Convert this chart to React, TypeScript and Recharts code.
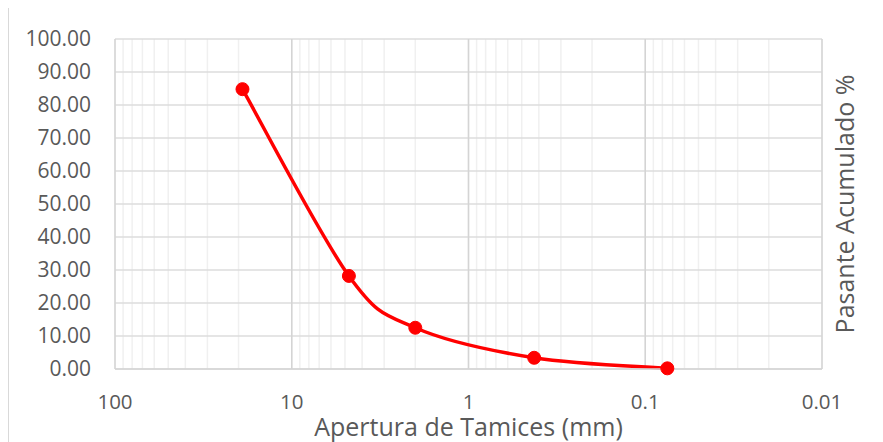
import React from 'react';
import {
    LineChart,
    Line,
    XAxis,
    YAxis,
    CartesianGrid,
    ReferenceLine,
} from 'recharts';

// tamices: abertura (mm) y % pasante acumulado
const aperturas = [19, 4.75, 2.0, 0.425, 0.075];
const pasante = [84.8, 28.2, 12.5, 3.4, 0.2];

const majorTicks = [100, 10, 1, 0.1, 0.01];
const gridTicks = [
    100, 90, 80, 70, 60, 50, 40, 30, 20,
    10, 9, 8, 7, 6, 5, 4, 3, 2,
    1, 0.9, 0.8, 0.7, 0.6, 0.5, 0.4, 0.3, 0.2,
    0.1, 0.09, 0.08, 0.07, 0.06, 0.05, 0.04, 0.03, 0.02,
    0.01,
];
const yTicks = [0, 10, 20, 30, 40, 50, 60, 70, 80, 90, 100];

const data = aperturas.map((a, i) => ({ abertura: a, pasante: pasante[i] }));

const textColor = '#595959';

// suavizado tipo Excel (Catmull-Rom con bezier)
const excelSmooth = (context: any) => {
    let pts: number[][] = [];
    return {
        areaStart() {},
        areaEnd() {},
        lineStart() {
            pts = [];
        },
        point(x: number, y: number) {
            pts.push([+x, +y]);
        },
        lineEnd() {
            if (!pts.length) return;
            context.moveTo(pts[0][0], pts[0][1]);
            for (let i = 0; i < pts.length - 1; i++) {
                const p0 = pts[i - 1] || pts[i];
                const p1 = pts[i];
                const p2 = pts[i + 1];
                const p3 = pts[i + 2] || pts[i + 1];
                context.bezierCurveTo(
                    p1[0] + (p2[0] - p0[0]) / 6,
                    p1[1] + (p2[1] - p0[1]) / 6,
                    p2[0] - (p3[0] - p1[0]) / 6,
                    p2[1] - (p3[1] - p1[1]) / 6,
                    p2[0],
                    p2[1]
                );
            }
        },
    };
};

const App: React.FC = () => {
    return (
        <div
            style={{
                fontFamily: '"Open Sans", sans-serif',
                width: 873,
                height: 440,
                marginTop: -1,
                border: '1px solid #d9d9d9',
                borderBottom: 'none',
                boxSizing: 'content-box',
            }}
        >
            <LineChart
                width={873}
                height={435}
                data={data}
                margin={{ top: 31, right: 0, left: 0, bottom: 0 }}
            >
                <CartesianGrid xAxisId="x" yAxisId="left" horizontal={false} stroke="#f0f0f0" strokeWidth={1.5} />
                <CartesianGrid xAxisId="x" yAxisId="left" vertical={false} stroke="#dcdcdc" strokeWidth={1.5} />
                {majorTicks.map((t) => (
                    <ReferenceLine key={t} xAxisId="x" yAxisId="left" x={t} stroke="#d4d4d4" strokeWidth={1.5} />
                ))}
                <XAxis
                    xAxisId="x"
                    dataKey="abertura"
                    type="number"
                    scale="log"
                    domain={[0.01, 100]}
                    allowDataOverflow
                    reversed
                    ticks={gridTicks}
                    interval={0}
                    tickFormatter={(v: number) => (majorTicks.includes(v) ? String(v) : '')}
                    tick={{ fill: textColor, fontSize: 20.5 }}
                    tickLine={false}
                    tickSize={0}
                    tickMargin={25}
                    height={74}
                    axisLine={{ stroke: '#d4d4d4', strokeWidth: 1.5 }}
                    label={{
                        value: 'Apertura de Tamices (mm)',
                        position: 'insideBottom',
                        offset: 7,
                        fill: textColor,
                        fontSize: 25,
                    }}
                />
                <YAxis
                    yAxisId="left"
                    domain={[0, 100]}
                    ticks={yTicks}
                    interval={0}
                    tickFormatter={(v: number) => v.toFixed(2)}
                    tick={{ fill: textColor, fontSize: 21 }}
                    tickLine={false}
                    tickSize={0}
                    tickMargin={24}
                    axisLine={false}
                    width={106}
                />
                <YAxis
                    yAxisId="right"
                    orientation="right"
                    domain={[0, 100]}
                    tick={false}
                    tickLine={false}
                    axisLine={false}
                    width={60}
                    label={{
                        value: 'Pasante Acumulado %',
                        angle: -90,
                        position: 'center',
                        dx: -7,
                        fill: textColor,
                        fontSize: 25,
                    }}
                />
                <Line
                    xAxisId="x"
                    yAxisId="left"
                    type={excelSmooth as any}
                    dataKey="pasante"
                    stroke="#ff0000"
                    strokeWidth={3.5}
                    dot={{ r: 6.5, fill: '#ff0000', stroke: '#ff0000', strokeWidth: 1 }}
                    isAnimationActive={false}
                />
            </LineChart>
        </div>
    );
};

export default App;
